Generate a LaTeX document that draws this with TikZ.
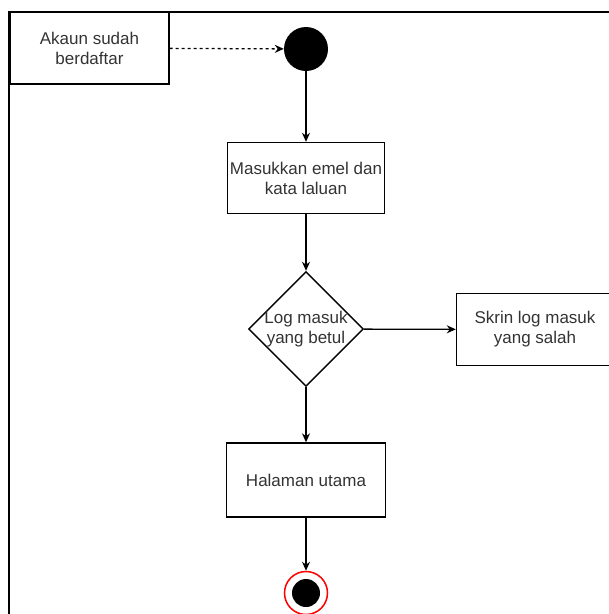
\documentclass[tikz,border=0pt]{standalone}
\usepackage{fontspec}
\setmainfont{Liberation Sans}
\usetikzlibrary{arrows.meta,shapes.geometric}

\begin{document}
\begin{tikzpicture}[x=1pt,y=-1pt,
  kotak/.style={draw,line width=1.4pt,minimum width=157pt,minimum height=71pt,
    inner sep=0pt,align=center,text=black!80,font=\fontsize{17}{20}\selectfont},
  anak/.style={-{Stealth[length=9pt,width=8pt]},line width=1.3pt}]
\useasboundingbox (0,0) rectangle (609,614);
\clip (0,0) rectangle (609,614);

\draw[line width=2pt] (9,640) -- (9,12) -- (640,12);

\node[kotak,minimum width=159pt,minimum height=72pt] (akaun) at (89.5,48) {Akaun sudah\\berdaftar};
\node[circle,fill=black,minimum size=44pt,inner sep=0pt] (mula) at (306,49) {};
\node[kotak] (masuk) at (306,178) {Masukkan emel dan\\kata laluan};
\node[diamond,draw,line width=1.4pt,minimum size=115pt,inner sep=0pt,
  label={[text=black!80,align=center,font=\fontsize{17}{20}\selectfont]center:Log masuk\\yang betul}] (semak) at (306,329) {};
\node[kotak,minimum height=72pt] (salah) at (535,329.5) {Skrin log masuk\\yang salah};
\node[kotak,minimum width=159pt,minimum height=74pt] (utama) at (306,480) {Halaman utama};
\node[circle,draw=red,line width=1.5pt,minimum size=43pt,inner sep=0pt] (tamat) at (306,593) {};
\fill[black] (tamat.center) circle (14pt);

\draw[anak,dash pattern=on 3pt off 3pt] (akaun) -- (mula);
\draw[anak] (mula) -- (masuk);
\draw[anak] (masuk) -- (semak);
\draw[anak] (semak) -- (salah);
\draw[anak] (semak) -- (utama);
\draw[anak] (utama) -- (tamat);

\end{tikzpicture}
\end{document}
